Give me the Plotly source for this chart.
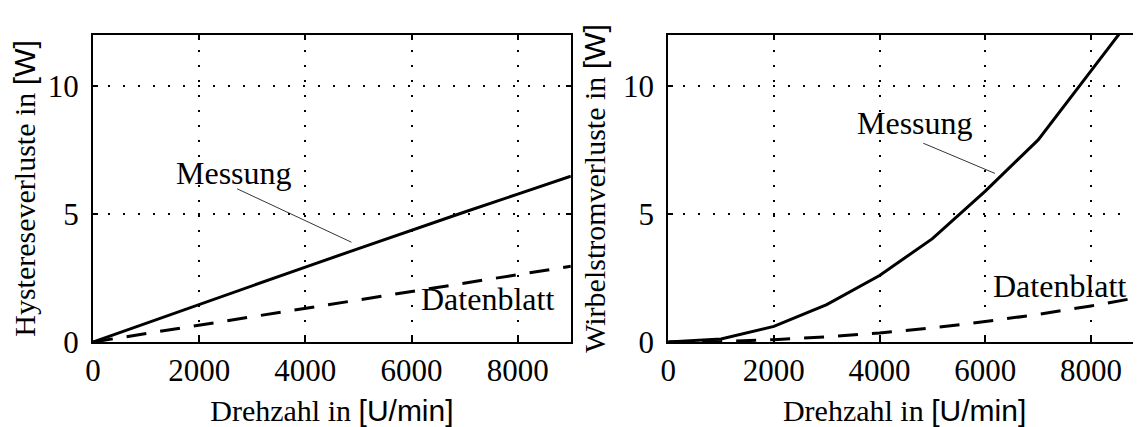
import plotly.graph_objects as go

# ---- data ----
drehzahl = [0, 1000, 2000, 3000, 4000, 5000, 6000, 7000, 8000, 9000]
hyst_messung = [0, 0.74, 1.47, 2.2, 2.93, 3.65, 4.38, 5.08, 5.78, 6.48]
hyst_datenblatt = [0, 0.33, 0.67, 0.99, 1.31, 1.64, 1.97, 2.3, 2.63, 2.96]
wirbel_messung = [0, 0.12, 0.61, 1.46, 2.6, 4.04, 5.9, 7.9, 10.6, 13.3]
wirbel_datenblatt = [0, 0.02, 0.09, 0.2, 0.35, 0.55, 0.8, 1.08, 1.41, 1.78]

x_ticks = [0, 2000, 4000, 6000, 8000]
y_ticks = [0, 5, 10]
SANS = "Liberation Sans"
x_title = "Drehzahl in <span style='font-family:%s'>[U/min]</span>" % SANS
y_title_left = "Hystereseverluste in <span style='font-family:%s'>[W]</span>" % SANS
y_title_right = "Wirbelstromverluste in <span style='font-family:%s'>[W]</span>" % SANS

# label text positions (data coords) and leader lines
labels = [
    dict(text="Messung", xref="x", yref="y", x=2651, y=6.6, xanchor="center"),
    dict(text="Datenblatt", xref="x", yref="y", x=8717, y=1.7, xanchor="right"),
    dict(text="Messung", xref="x2", yref="y2", x=4678, y=8.55, xanchor="center"),
    dict(text="Datenblatt", xref="x2", yref="y2", x=8700, y=2.2, xanchor="right"),
]
leaders = [
    dict(xref="x", yref="y", x0=2713, y0=5.99, x1=4868, y1=3.90),
    dict(xref="x2", yref="y2", x0=4826, y0=7.77, x1=6183, y1=6.59),
]

FONT = "Liberation Serif"
FS_TICK = 31
FS_TITLE = 30
FS_LABEL = 32

fig = go.Figure()
fig.add_trace(go.Scatter(x=drehzahl, y=hyst_messung, mode="lines",
                         line=dict(color="black", width=3), xaxis="x", yaxis="y"))
fig.add_trace(go.Scatter(x=drehzahl, y=hyst_datenblatt, mode="lines",
                         line=dict(color="black", width=3, dash="20px,14px"), xaxis="x", yaxis="y"))
fig.add_trace(go.Scatter(x=drehzahl, y=wirbel_messung, mode="lines",
                         line=dict(color="black", width=3), xaxis="x2", yaxis="y2"))
fig.add_trace(go.Scatter(x=drehzahl, y=wirbel_datenblatt, mode="lines",
                         line=dict(color="black", width=3, dash="20px,14px"), xaxis="x2", yaxis="y2"))

common_axis = dict(
    showline=True, linecolor="black", linewidth=2,
    ticks="inside", ticklen=5, tickwidth=1.5, tickcolor="black",
    showgrid=True, gridcolor="black", gridwidth=1.5, griddash="1.5px,13.5px",
    zeroline=False, automargin=False,
    tickfont=dict(family=FONT, size=FS_TICK, color="black"),
)

# the page body has an 8px default margin, so the figure is 8px smaller
W, H = 1133, 419
L, T, B = 85.3, 27, 84.7
plot_w = W - L
left_domain = [0, (563 - L) / plot_w]
right_domain = [(660.3 - L) / plot_w, 1]

fig.update_layout(
    width=W, height=H,
    margin=dict(l=L, r=0, t=T, b=B),
    paper_bgcolor="white", plot_bgcolor="white",
    showlegend=False,
    font=dict(family=FONT, size=FS_TITLE, color="black"),
    xaxis=dict(common_axis, domain=left_domain, range=[0, 9000], tickvals=x_ticks,
               mirror="ticks", anchor="y",
               title=dict(text=x_title, font=dict(family=FONT, size=FS_TITLE), standoff=14)),
    yaxis=dict(common_axis, domain=[0, 1], range=[0, 12], tickvals=y_ticks,
               mirror="ticks", anchor="x", ticklabelstandoff=6,
               title=dict(text=y_title_left, font=dict(family=FONT, size=FS_TITLE), standoff=8)),
    xaxis2=dict(common_axis, domain=right_domain, range=[0, 8946], tickvals=x_ticks,
                mirror="ticks", anchor="y2",
                title=dict(text=x_title, font=dict(family=FONT, size=FS_TITLE), standoff=14)),
    yaxis2=dict(common_axis, domain=[0, 1], range=[0, 12], tickvals=y_ticks,
                mirror=False, anchor="x2", ticklabelstandoff=6,
                title=dict(text=y_title_right, font=dict(family=FONT, size=FS_TITLE), standoff=8)),
)

for lb in labels:
    fig.add_annotation(text=lb["text"], xref=lb["xref"], yref=lb["yref"], x=lb["x"], y=lb["y"],
                       showarrow=False, xanchor=lb["xanchor"], yanchor="middle",
                       font=dict(family=FONT, size=FS_LABEL, color="black"), bgcolor="rgba(0,0,0,0)")
for ld in leaders:
    fig.add_shape(type="line", xref=ld["xref"], yref=ld["yref"], x0=ld["x0"], y0=ld["y0"],
                  x1=ld["x1"], y1=ld["y1"], line=dict(color="black", width=0.8))

fig.write_html("out.html")
